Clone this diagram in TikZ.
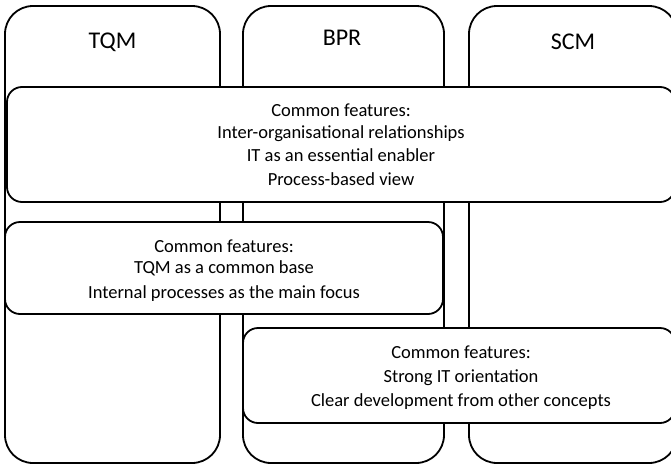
\documentclass[tikz,border=0pt]{standalone}
\usepackage{fontspec}
\setmainfont{Carlito}
\begin{document}
\begin{tikzpicture}[x=1pt,y=-1pt,
  column/.style={draw, line width=1.8pt, rounded corners=28pt, inner sep=0,
    outer sep=0},
  featurebox/.style={draw, fill=white, line width=1.8pt, rounded corners=15pt,
    inner sep=0, outer sep=0},
  title/.style={anchor=base, font=\fontsize{24}{28}\selectfont, inner sep=0},
  textline/.style={anchor=base, font=\fontsize{18.5}{22}\selectfont, inner sep=0}]
\useasboundingbox (0,0) rectangle (671,466);
\clip (0,0) rectangle (671,466);

% the three concept columns
\node[column, minimum width=215pt, minimum height=457pt] (tqm) at (112.5,234.5) {};
\node[column, minimum width=201pt, minimum height=457pt] (bpr) at (343.5,234.5) {};
\node[column, minimum width=208pt, minimum height=457pt] (scm) at (573,234.5) {};

\node[title] (tqmlabel) at (112.5,48.7) {TQM};
\node[title] (bprlabel) at (342,45.7) {BPR};
\node[title] (scmlabel) at (573,49) {SCM};

% features shared by all three concepts
\node[featurebox, minimum width=668pt, minimum height=115pt] (allbox) at (341,144.5) {};
\node[textline] (all1) at (341,116) {Common features:};
\node[textline] (all2) at (341,138.5) {Inter-organisational relationships};
\node[textline] (all3) at (341,161.5) {IT as an essential enabler};
\node[textline] (all4) at (341,185) {Process-based view};

% features shared by TQM and BPR
\node[featurebox, minimum width=438pt, minimum height=92pt] (tbbox) at (224,268) {};
\node[textline] (tb1) at (224,252) {Common features:};
\node[textline] (tb2) at (224,273) {TQM as a common base};
\node[textline] (tb3) at (224,298) {Internal processes as the main focus};

% features shared by BPR and SCM
\node[featurebox, minimum width=432pt, minimum height=95pt] (bsbox) at (459,375.5) {};
\node[textline] (bs1) at (461,358) {Common features:};
\node[textline] (bs2) at (461,382) {Strong IT orientation};
\node[textline] (bs3) at (461,406) {Clear development from other concepts};
\end{tikzpicture}
\end{document}
